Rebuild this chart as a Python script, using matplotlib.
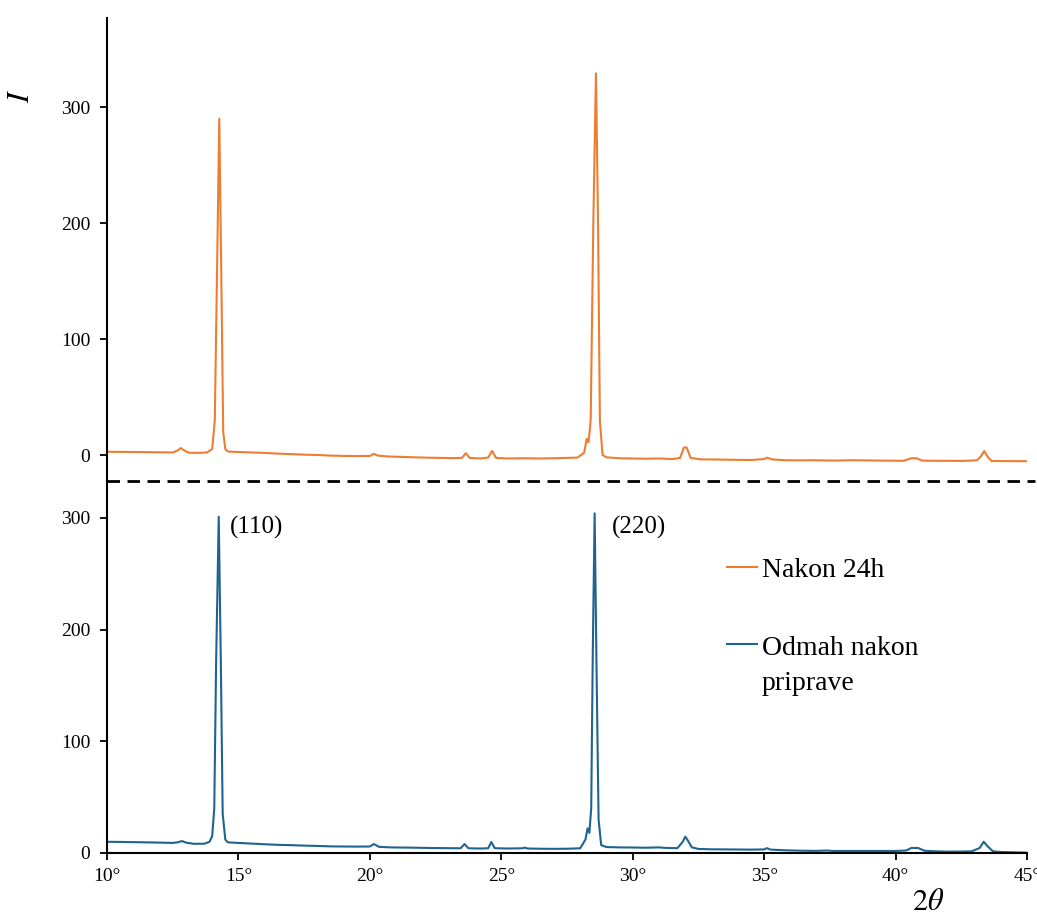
import numpy as np
import matplotlib.pyplot as plt
from matplotlib.lines import Line2D
from matplotlib.legend_handler import HandlerLine2D

plt.rcParams['font.family'] = ['Liberation Serif', 'DejaVu Serif']
plt.rcParams['mathtext.fontset'] = 'stix'

# Nakon 24h (gornji graf)
x_top = [10.0, 10.5, 11.0, 11.5, 12.0, 12.5, 12.7, 12.8, 12.9, 13.1, 13.5, 13.8, 14.0, 14.1,
         14.2, 14.27, 14.35, 14.42, 14.5, 14.6, 15.0, 15.5, 16.0, 16.5, 17.0, 17.5, 18.0, 18.5,
         19.0, 19.5, 20.0, 20.15, 20.3, 20.7, 21.2, 21.7, 22.2, 22.7, 23.2, 23.5, 23.65, 23.8,
         24.2, 24.5, 24.65, 24.8, 25.2, 25.8, 26.4, 27.0, 27.5, 27.9, 28.15, 28.25, 28.32, 28.4,
         28.5, 28.6, 28.68, 28.75, 28.85, 29.0, 29.5, 30.0, 30.5, 31.0, 31.5, 31.8, 31.95, 32.05,
         32.2, 32.6, 33.0, 33.5, 34.0, 34.5, 35.0, 35.1, 35.3, 35.8, 36.3, 36.8, 37.3, 37.8,
         38.3, 38.8, 39.3, 39.8, 40.3, 40.6, 40.8, 41.0, 41.5, 42.0, 42.5, 42.9, 43.1, 43.25,
         43.37, 43.5, 43.65, 44.0, 44.5, 45.0]
y_top = [2.8, 2.7, 2.6, 2.5, 2.3, 2.2, 4.0, 6.0, 4.5, 2.0, 1.8, 2.2, 5.0, 30.0,
         180.0, 290.0, 150.0, 20.0, 5.0, 3.0, 2.6, 2.2, 1.8, 1.2, 0.8, 0.3, 0.0, -0.5,
         -0.8, -0.9, -0.8, 1.0, -0.5, -1.3, -1.6, -2.0, -2.3, -2.5, -2.7, -2.5, 1.5, -2.5,
         -3.0, -2.2, 3.5, -2.5, -3.0, -2.8, -3.0, -2.8, -2.5, -2.2, 2.0, 14.0, 11.0, 30.0,
         200.0, 329.0, 200.0, 30.0, 0.0, -2.0, -2.8, -3.0, -3.2, -3.0, -3.5, -2.5, 6.5, 6.5,
         -2.5, -3.8, -3.8, -4.0, -4.2, -4.3, -3.5, -2.3, -3.8, -4.5, -4.6, -4.5, -4.7, -4.8,
         -4.5, -4.6, -4.8, -4.9, -5.0, -2.8, -2.8, -4.8, -5.0, -5.0, -5.1, -4.8, -4.5, -1.0,
         3.4, -1.5, -5.2, -5.2, -5.3, -5.3]

# Odmah nakon priprave (donji graf)
x_bot = [10.0, 10.5, 11.0, 11.5, 12.0, 12.5, 12.7, 12.85, 13.0, 13.3, 13.7, 13.9, 14.0, 14.08,
         14.15, 14.25, 14.33, 14.4, 14.5, 14.6, 15.0, 15.5, 16.0, 16.5, 17.0, 17.5, 18.0, 18.5,
         19.0, 19.5, 20.0, 20.15, 20.35, 20.8, 21.5, 22.0, 22.5, 23.0, 23.45, 23.6, 23.75, 24.2,
         24.5, 24.62, 24.75, 25.2, 25.8, 25.9, 26.0, 26.5, 27.0, 27.5, 28.0, 28.2, 28.28, 28.35,
         28.42, 28.48, 28.55, 28.62, 28.7, 28.8, 29.0, 29.5, 30.0, 30.5, 31.0, 31.2, 31.7, 31.9,
         32.0, 32.1, 32.25, 32.5, 33.0, 33.5, 34.0, 34.5, 35.0, 35.1, 35.25, 35.8, 36.5, 37.0,
         37.4, 37.6, 38.0, 38.5, 39.0, 39.5, 40.0, 40.4, 40.6, 40.85, 41.1, 41.5, 42.0, 42.5,
         42.9, 43.2, 43.35, 43.5, 43.7, 44.0, 44.5, 45.0]
y_bot = [10.0, 9.9, 9.7, 9.5, 9.3, 9.0, 9.6, 10.7, 9.3, 8.2, 8.3, 10.0, 15.0, 40.0,
         170.0, 301.0, 170.0, 35.0, 12.0, 9.5, 9.0, 8.4, 7.8, 7.3, 7.0, 6.6, 6.3, 5.9,
         5.8, 5.7, 5.8, 8.0, 5.5, 5.0, 4.8, 4.6, 4.4, 4.3, 4.2, 8.0, 4.2, 4.0,
         4.2, 9.8, 4.3, 4.0, 4.2, 4.8, 4.0, 3.8, 3.7, 3.8, 4.2, 12.0, 22.0, 18.0,
         40.0, 180.0, 304.0, 170.0, 30.0, 7.0, 5.3, 5.0, 4.9, 4.7, 5.0, 4.6, 4.3, 10.0,
         14.6, 11.0, 5.0, 3.6, 3.3, 3.2, 3.1, 3.0, 3.2, 4.3, 3.0, 2.4, 2.0, 1.9,
         2.2, 1.8, 1.8, 1.8, 1.8, 1.8, 1.8, 2.2, 4.5, 4.5, 2.0, 1.5, 1.2, 1.3,
         1.5, 4.5, 10.1, 6.0, 1.5, 0.9, 0.6, 0.3]

x_ticks = [10, 15, 20, 25, 30, 35, 40, 45]
y_ticks = [0, 100, 200, 300]


# crtica u legendi poravnata s prvim redom teksta
class FirstLineHandler(HandlerLine2D):
    def create_artists(self, legend, orig_handle, xdescent, ydescent, width, height,
                       fontsize, trans):
        arts = super().create_artists(legend, orig_handle, xdescent, ydescent, width,
                                      height, fontsize, trans)
        for a in arts:
            a.set_ydata(np.asarray(a.get_ydata()) + 15.5)
        return arts


fig = plt.figure(figsize=(10.37, 9.16), dpi=100)
ax1 = fig.add_axes([0.1032, 0.4749, 0.8872, 0.5054])
ax2 = fig.add_axes([0.1032, 0.0688, 0.8872, 0.4061])

l1, = ax1.plot(x_top, y_top, color='#ED7D31', lw=1.5)
l2, = ax2.plot(x_bot, y_bot, color='#1F6391', lw=1.5)

for ax in (ax1, ax2):
    ax.set_xlim(10, 45)
    ax.set_yticks(y_ticks)
    ax.spines['top'].set_visible(False)
    ax.spines['right'].set_visible(False)
    ax.spines['left'].set_linewidth(1.5)
    ax.tick_params(axis='y', direction='out', length=5, width=1.3, pad=7, labelsize=14)
    ax.patch.set_alpha(0)

ax1.set_ylim(-22.4, 376.7)
ax1.spines['bottom'].set_visible(False)
ax1.tick_params(axis='x', bottom=False, labelbottom=False)

ax2.set_ylim(0, 333)
ax2.spines['bottom'].set_linewidth(1.5)
ax2.set_xticks(x_ticks)
ax2.set_xticklabels([f'{t}°' for t in x_ticks])
ax2.tick_params(axis='x', direction='out', length=5, width=1.3, pad=6, labelsize=14)

# isprekidana linija izmedju grafova
fig.add_artist(Line2D([0.1032, 0.998], [0.4749, 0.4749], transform=fig.transFigure,
                      color='black', lw=2, dashes=(4.5, 2.7)))

ax2.text(14.68, 291.8, '(110)', fontsize=18, va='center', ha='left')
ax2.text(29.2, 291.8, '(220)', fontsize=18, va='center', ha='left')

leg = ax2.legend([l1, l2], ['Nakon 24h', 'Odmah nakon\npriprave'], frameon=False,
                 fontsize=20, handlelength=1.1, handletextpad=0.15, labelspacing=1.9,
                 loc='upper left', bbox_to_anchor=(0.6465, 0.862),
                 handler_map={l2: FirstLineHandler()})
for t in leg.get_texts():
    t.set_linespacing(1.55)

fig.text(0.021, 1 - 96 / 916, '$I$', fontsize=22, rotation=90, ha='center', va='center')
fig.text(0.895, 1 - 902 / 916, r'$2\theta$', fontsize=22, ha='center', va='center')

fig.savefig('out.png', dpi=100)
